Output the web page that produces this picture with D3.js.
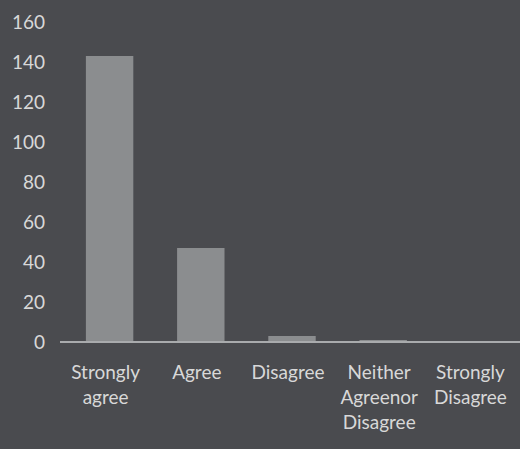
<!DOCTYPE html>
<html><head><meta charset="utf-8">
<script src="https://cdn.jsdelivr.net/npm/d3@7"></script>
<style>body{margin:0;background:#4a4b4f;}svg{display:block;}</style>
</head><body>
<svg id="c" width="520" height="449"></svg>
<script>
const categories = [["Strongly","agree"],["Agree"],["Disagree"],["Neither","Agreenor","Disagree"],["Strongly","Disagree"]];
const values = [143, 47, 3, 1, 0];
const yTicks = [0,20,40,60,80,100,120,140,160];

const svg = d3.select("#c");
svg.append("rect").attr("width",520).attr("height",449).attr("fill","#4a4b4f");
const keys = categories.map(d=>d.join(" "));
const x = d3.scaleBand().domain(keys).range([64,520]).paddingInner(0.48).paddingOuter(0.24);
const y = d3.scaleLinear().domain([0,160]).range([342,22]);

svg.append("g").selectAll("rect").data(values).join("rect")
  .attr("x",(d,i)=>x(keys[i])).attr("width",x.bandwidth())
  .attr("y",d=>y(d)).attr("height",d=>y(0)-y(d))
  .attr("fill","#8b8d8f");

svg.append("line").attr("x1",60).attr("x2",520).attr("y1",y(0)).attr("y2",y(0))
  .attr("stroke","#a9abad").attr("stroke-width",2);

const font = "Lato, 'Open Sans', sans-serif";
const yAxis = d3.axisLeft(y).tickValues(yTicks).tickSize(0).tickPadding(0);
const gy = svg.append("g").attr("transform","translate(45,0)").call(yAxis);
gy.select(".domain").remove();
gy.selectAll("text").attr("fill","#d8d8d8").style("font-family",font).style("font-size","19px");

const gx = svg.append("g");
categories.forEach((lines,i)=>{
  const cx = x(keys[i]) + x.bandwidth()/2 - 4;
  const t = gx.append("text").attr("x",cx).attr("y",379).attr("text-anchor","middle")
    .attr("fill","#d8d8d8").style("font-family",font).style("font-size","19px");
  lines.forEach((l,j)=>t.append("tspan").attr("x",cx).attr("dy",j===0?0:25).text(l));
});
</script>
</body></html>
